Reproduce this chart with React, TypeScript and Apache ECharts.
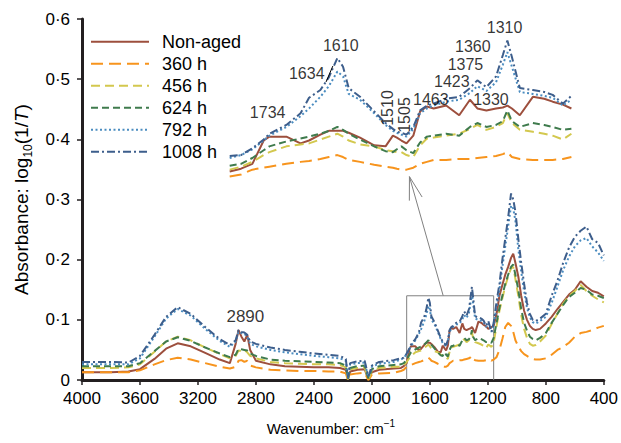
import React, { useEffect, useRef } from "react";
import * as echarts from "echarts";

// Wavenumber grid (cm^-1) shared by all spectra
const WAVENUMBERS = [
  4000, 3800, 3680, 3600, 3500, 3420, 3340, 3250, 3150, 3050, 2980, 2940, 2920, 2900, 2880, 2860, 2840, 2800,
  2700, 2600, 2500, 2400, 2300, 2220, 2180, 2165, 2150, 2100, 2050, 2025, 2015, 2000, 1950, 1850,
  1800, 1780, 1760, 1740, 1730, 1700, 1675, 1660, 1640, 1625, 1610, 1600, 1590, 1570, 1545, 1525, 1512, 1505,
  1497, 1488, 1476, 1464, 1452, 1440, 1418, 1395, 1376, 1363, 1347, 1330, 1318, 1310, 1302, 1288, 1265, 1245,
  1230, 1212, 1197, 1175, 1160,
  1140, 1120, 1100, 1080, 1060, 1040, 1025, 1010, 990, 970, 950, 930, 910, 890, 870, 840, 800, 760, 720, 680,
  640, 600, 560, 520, 480, 440, 400,
];

const NON_AGED = [
  0.013, 0.013, 0.014, 0.018, 0.035, 0.052, 0.061, 0.056, 0.045, 0.034, 0.028, 0.060, 0.083, 0.072, 0.064, 0.075, 0.050, 0.032,
  0.026, 0.023, 0.022, 0.021, 0.021, 0.020, 0.017, 0.001, 0.014, 0.017, 0.018, 0.001, 0.005, 0.013, 0.017, 0.019,
  0.020, 0.023, 0.028, 0.052, 0.056, 0.056, 0.049, 0.052, 0.058, 0.062, 0.062, 0.062, 0.060, 0.055, 0.047, 0.046, 0.057, 0.055,
  0.052, 0.049, 0.057, 0.082, 0.087, 0.085, 0.088, 0.078, 0.094, 0.085, 0.083, 0.085, 0.086, 0.088, 0.085, 0.078, 0.097, 0.095,
  0.092, 0.089, 0.085, 0.088, 0.090,
  0.110, 0.140, 0.158, 0.175, 0.188, 0.203, 0.210, 0.195, 0.172, 0.140, 0.115, 0.100, 0.090, 0.085, 0.083, 0.085, 0.094, 0.105, 0.118, 0.130,
  0.142, 0.150, 0.164, 0.155, 0.148, 0.145, 0.139,
];

const H360 = [
  0.013, 0.013, 0.013, 0.016, 0.026, 0.033, 0.037, 0.034, 0.028, 0.022, 0.019, 0.022, 0.032, 0.033, 0.030, 0.032, 0.024, 0.021,
  0.017, 0.016, 0.015, 0.015, 0.014, 0.014, 0.011, 0.000, 0.009, 0.011, 0.012, 0.000, 0.003, 0.009, 0.011, 0.012,
  0.015, 0.017, 0.022, 0.024, 0.025, 0.028, 0.030, 0.031, 0.033, 0.035, 0.037, 0.035, 0.032, 0.030, 0.027, 0.025, 0.024, 0.023,
  0.022, 0.022, 0.024, 0.028, 0.030, 0.032, 0.032, 0.033, 0.033, 0.034, 0.035, 0.036, 0.038, 0.040, 0.035, 0.033, 0.032, 0.032,
  0.032, 0.033, 0.035, 0.032, 0.034,
  0.038, 0.050, 0.068, 0.088, 0.095, 0.090, 0.080, 0.066, 0.056, 0.048, 0.043, 0.040, 0.037, 0.035, 0.034, 0.034, 0.036, 0.042, 0.050, 0.055,
  0.062, 0.072, 0.078, 0.080, 0.083, 0.087, 0.090,
];

const H456 = [
  0.020, 0.020, 0.021, 0.026, 0.047, 0.064, 0.072, 0.066, 0.054, 0.043, 0.036, 0.040, 0.049, 0.048, 0.050, 0.046, 0.040, 0.036,
  0.030, 0.028, 0.027, 0.026, 0.026, 0.025, 0.021, 0.001, 0.018, 0.020, 0.021, 0.002, 0.006, 0.016, 0.020, 0.022,
  0.022, 0.025, 0.030, 0.037, 0.040, 0.046, 0.048, 0.049, 0.053, 0.056, 0.059, 0.056, 0.052, 0.048, 0.046, 0.042, 0.041, 0.040,
  0.040, 0.037, 0.035, 0.047, 0.054, 0.055, 0.057, 0.059, 0.064, 0.068, 0.063, 0.066, 0.070, 0.080, 0.070, 0.063, 0.061, 0.059,
  0.057, 0.053, 0.059, 0.055, 0.062,
  0.090, 0.115, 0.136, 0.156, 0.172, 0.186, 0.188, 0.168, 0.140, 0.108, 0.085, 0.070, 0.060, 0.057, 0.058, 0.064, 0.074, 0.093, 0.110, 0.127,
  0.140, 0.148, 0.158, 0.148, 0.140, 0.134, 0.129,
];

const H624 = [
  0.023, 0.023, 0.023, 0.028, 0.048, 0.064, 0.071, 0.065, 0.054, 0.044, 0.038, 0.042, 0.052, 0.051, 0.050, 0.049, 0.044, 0.040,
  0.034, 0.032, 0.031, 0.030, 0.029, 0.028, 0.024, 0.002, 0.020, 0.023, 0.024, 0.003, 0.008, 0.018, 0.023, 0.025,
  0.026, 0.028, 0.034, 0.042, 0.046, 0.051, 0.054, 0.056, 0.059, 0.062, 0.066, 0.063, 0.059, 0.053, 0.046, 0.041, 0.040, 0.043,
  0.046, 0.042, 0.039, 0.050, 0.056, 0.057, 0.059, 0.057, 0.066, 0.070, 0.066, 0.068, 0.072, 0.083, 0.072, 0.066, 0.070, 0.068,
  0.066, 0.063, 0.064, 0.062, 0.070,
  0.095, 0.120, 0.140, 0.160, 0.175, 0.188, 0.192, 0.175, 0.150, 0.118, 0.095, 0.082, 0.072, 0.068, 0.066, 0.070, 0.078, 0.095, 0.110, 0.125,
  0.138, 0.145, 0.153, 0.150, 0.142, 0.140, 0.136,
];

const H792 = [
  0.026, 0.026, 0.026, 0.036, 0.072, 0.102, 0.118, 0.107, 0.085, 0.065, 0.055, 0.064, 0.080, 0.078, 0.077, 0.072, 0.060, 0.056,
  0.050, 0.046, 0.043, 0.040, 0.038, 0.036, 0.032, 0.003, 0.026, 0.028, 0.029, 0.005, 0.010, 0.022, 0.027, 0.030,
  0.034, 0.037, 0.043, 0.052, 0.057, 0.066, 0.077, 0.085, 0.097, 0.108, 0.123, 0.118, 0.100, 0.094, 0.080, 0.068, 0.062, 0.060,
  0.058, 0.056, 0.064, 0.080, 0.085, 0.088, 0.092, 0.094, 0.101, 0.108, 0.103, 0.112, 0.130, 0.143, 0.128, 0.102, 0.100, 0.098,
  0.096, 0.088, 0.094, 0.080, 0.090,
  0.122, 0.150, 0.188, 0.222, 0.255, 0.290, 0.285, 0.265, 0.218, 0.180, 0.148, 0.120, 0.104, 0.096, 0.094, 0.098, 0.105, 0.128, 0.155, 0.183,
  0.205, 0.222, 0.232, 0.236, 0.222, 0.212, 0.198,
];

const H1008 = [
  0.030, 0.030, 0.029, 0.040, 0.075, 0.105, 0.121, 0.110, 0.088, 0.068, 0.058, 0.066, 0.083, 0.080, 0.079, 0.075, 0.064, 0.060,
  0.054, 0.050, 0.047, 0.044, 0.042, 0.040, 0.035, 0.004, 0.028, 0.031, 0.032, 0.006, 0.012, 0.024, 0.030, 0.033,
  0.036, 0.037, 0.044, 0.053, 0.059, 0.068, 0.080, 0.096, 0.104, 0.117, 0.137, 0.128, 0.106, 0.097, 0.082, 0.070, 0.064, 0.061,
  0.060, 0.058, 0.066, 0.083, 0.088, 0.090, 0.095, 0.097, 0.106, 0.114, 0.107, 0.118, 0.140, 0.155, 0.138, 0.106, 0.104, 0.102,
  0.099, 0.090, 0.098, 0.080, 0.095,
  0.130, 0.160, 0.200, 0.235, 0.270, 0.310, 0.300, 0.280, 0.235, 0.195, 0.160, 0.128, 0.110, 0.100, 0.098, 0.102, 0.110, 0.140, 0.165, 0.195,
  0.220, 0.238, 0.248, 0.255, 0.234, 0.228, 0.207,
];

const SERIES_NAMES = ["Non-aged", "360 h", "456 h", "624 h", "792 h", "1008 h"];
const SERIES_VALUES = [NON_AGED, H360, H456, H624, H792, H1008];

// Axis ranges
const X_RANGE = [400, 4000];
const X_STEP = 400;
const Y_RANGE = [0, 0.6];
const Y_STEP = 0.1;

// Zoomed region (box in the main plot) and inset ranges
const ZOOM_BOX_X = [1760, 1160];
const ZOOM_BOX_TOP = 0.14;
const INSET_X = [1197, 1800];
const INSET_Y = [0, 0.165];

// Arrow from the box to the inset (main-plot data coordinates)
const ARROW_FROM = [1508, 0.14];
const ARROW_TO = [1741, 0.338];

// Peak annotations in the inset (inset data coordinates)
const INSET_LABEL_TEXT = ["1734", "1634", "1610", "1510", "1505", "1463", "1423", "1375", "1360", "1310", "1330"];
const INSET_LABEL_WN = [1733, 1664, 1604, 1521, 1492, 1445, 1408, 1384, 1371, 1315, 1339];
const INSET_LABEL_V = [0.0808, 0.1215, 0.150, 0.0855, 0.0783, 0.0947, 0.1123, 0.1308, 0.1493, 0.1679, 0.0947];
const INSET_LABEL_ROT = [0, 0, 0, 90, 90, 0, 0, 0, 0, 0, 0];
const LEADER_1634 = [[1630, 0.1123], [1618, 0.1287]];

// Peak annotation in main plot
const MAIN_LABEL = { text: "2890", wn: 2873, v: 0.106 };

const FONT = "'Liberation Sans', Arial, Helvetica, sans-serif";
const COLORS = ["#9d4f3d", "#f7941d", "#d3c84e", "#3f7b4d", "#4a8cc0", "#3d5e8c"];
const DASHES: any[] = ["solid", [12, 6], [9, 5], [7, 4], [2, 2.5], [8, 3, 2, 3]];

export default function App() {
  const ref = useRef<HTMLDivElement>(null);

  useEffect(() => {
    if (!ref.current) return;
    const chart = echarts.init(ref.current, undefined, { renderer: "svg" });

    const mainSeries = SERIES_NAMES.map((name, i) => ({
      type: "line",
      name,
      xAxisIndex: 0,
      yAxisIndex: 0,
      data: WAVENUMBERS.map((w, j) => [w, SERIES_VALUES[i][j]]),
      symbol: "none",
      showSymbol: false,
      silent: true,
      clip: true,
      lineStyle: { color: COLORS[i], width: 2, type: DASHES[i] },
      itemStyle: { color: COLORS[i] },
      z: 3 + i,
    }));

    const insetSeries = SERIES_NAMES.map((name, i) => ({
      type: "line",
      name,
      xAxisIndex: 1,
      yAxisIndex: 1,
      data: WAVENUMBERS.map((w, j) => [w, SERIES_VALUES[i][j]]).filter(
        (p) => p[0] >= INSET_X[0] && p[0] <= INSET_X[1]
      ),
      symbol: "none",
      showSymbol: false,
      silent: true,
      clip: true,
      lineStyle: { color: COLORS[i], width: 2, type: DASHES[i] },
      itemStyle: { color: COLORS[i] },
      z: 3 + i,
    }));

    const boxSeries = {
      type: "line",
      xAxisIndex: 0,
      yAxisIndex: 0,
      data: [
        [ZOOM_BOX_X[0], 0],
        [ZOOM_BOX_X[0], ZOOM_BOX_TOP],
        [ZOOM_BOX_X[1], ZOOM_BOX_TOP],
        [ZOOM_BOX_X[1], 0],
      ],
      symbol: "none",
      silent: true,
      lineStyle: { color: "#808080", width: 1 },
      z: 2,
    };

    const leaderSeries = {
      type: "line",
      xAxisIndex: 1,
      yAxisIndex: 1,
      data: LEADER_1634,
      symbol: "none",
      silent: true,
      clip: false,
      lineStyle: { color: "#000", width: 1 },
      z: 10,
    };

    const insetLabels = {
      type: "scatter",
      xAxisIndex: 1,
      yAxisIndex: 1,
      symbolSize: 1,
      silent: true,
      clip: false,
      itemStyle: { color: "rgba(0,0,0,0)" },
      label: { show: true, position: "inside", color: "#000", fontSize: 16, lineHeight: 16, fontFamily: FONT },
      data: INSET_LABEL_TEXT.map((t, i) => ({
        value: [INSET_LABEL_WN[i], INSET_LABEL_V[i]],
        label: { show: true, formatter: t, rotate: INSET_LABEL_ROT[i] },
      })),
      z: 20,
    };

    const mainLabel = {
      type: "scatter",
      xAxisIndex: 0,
      yAxisIndex: 0,
      symbolSize: 1,
      silent: true,
      clip: false,
      itemStyle: { color: "rgba(0,0,0,0)" },
      label: { show: true, position: "inside", color: "#000", fontSize: 17, fontFamily: FONT, formatter: MAIN_LABEL.text },
      data: [[MAIN_LABEL.wn, MAIN_LABEL.v]],
      z: 20,
    };

    const axisLine = { show: true, onZero: false, lineStyle: { color: "#231f20", width: 3 } };
    const axisTick = { show: true, inside: false, length: 5, lineStyle: { color: "#231f20", width: 1.5 } };

    const option: any = {
      animation: false,
      backgroundColor: "#ffffff",
      textStyle: { fontFamily: FONT },
      legend: {
        data: SERIES_NAMES,
        orient: "vertical",
        left: 90,
        top: 32.7,
        padding: 0,
        itemWidth: 58,
        itemHeight: 14,
        itemGap: 4,
        selectedMode: false,
        itemStyle: { opacity: 0 },
        textStyle: { fontSize: 18, color: "#000", fontFamily: FONT, lineHeight: 18, padding: [0, 0, 0, 8] },
      },
      grid: [
        { left: 79, right: 16, top: 19, bottom: 55.3 },
        { left: 229.7, right: 49.6, top: 30.8, bottom: 252 },
      ],
      xAxis: [
        {
          type: "value",
          gridIndex: 0,
          inverse: true,
          min: X_RANGE[0],
          max: X_RANGE[1],
          interval: X_STEP,
          axisLine,
          axisTick,
          splitLine: { show: false },
          axisLabel: {
            margin: 10,
            fontSize: 17,
            color: "#000",
            fontFamily: FONT,
            formatter: (v: number) => String(v),
          },
          name: "Wavenumber: cm{sup|\u22121}",
          nameLocation: "middle",
          nameGap: 38,
          nameTextStyle: {
            fontSize: 15,
            color: "#000",
            fontFamily: FONT,
            lineHeight: 20,
            padding: [0, 24, 0, 0],
            rich: { sup: { fontSize: 10, color: "#000", fontFamily: FONT, verticalAlign: "top", lineHeight: 14 } },
          },
        },
        { type: "value", gridIndex: 1, inverse: true, min: INSET_X[0], max: INSET_X[1], show: false },
      ],
      yAxis: [
        {
          type: "value",
          gridIndex: 0,
          min: Y_RANGE[0],
          max: Y_RANGE[1],
          interval: Y_STEP,
          axisLine,
          axisTick,
          splitLine: { show: false },
          axisLabel: {
            margin: 12,
            fontSize: 17,
            color: "#000",
            fontFamily: FONT,
            formatter: (v: number) => (v === 0 ? "0" : v.toFixed(1).replace(".", "\u00b7")),
          },
          name: "Absorbance: log{sub|10}(1/{it|T})",
          nameLocation: "middle",
          nameGap: 48,
          nameRotate: 90,
          nameTextStyle: {
            fontSize: 19,
            color: "#000",
            fontFamily: FONT,
            lineHeight: 26,
            rich: {
              sub: { fontSize: 12, color: "#000", fontFamily: FONT, verticalAlign: "bottom", lineHeight: 12 },
              it: { fontSize: 19, color: "#000", fontFamily: FONT, fontStyle: "italic", lineHeight: 26 },
            },
          },
        },
        { type: "value", gridIndex: 1, min: INSET_Y[0], max: INSET_Y[1], show: false },
      ],
      series: [boxSeries, ...mainSeries, ...insetSeries, leaderSeries, insetLabels, mainLabel],
    };

    chart.setOption(option);

    const base = chart.convertToPixel({ gridIndex: 0 }, ARROW_FROM) as number[];
    const tip = chart.convertToPixel({ gridIndex: 0 }, ARROW_TO) as number[];
    const ang = Math.atan2(base[1] - tip[1], base[0] - tip[0]);
    const headLen = 24;
    const spread = 0.28;
    const h1 = [tip[0] + headLen * Math.cos(ang + spread), tip[1] + headLen * Math.sin(ang + spread)];
    const h2 = [tip[0] + headLen * Math.cos(ang - spread), tip[1] + headLen * Math.sin(ang - spread)];

    chart.setOption({
      graphic: [
        {
          type: "line",
          shape: { x1: base[0], y1: base[1], x2: tip[0], y2: tip[1] },
          style: { stroke: "#808080", lineWidth: 1 },
          silent: true,
        },
        {
          type: "polyline",
          shape: { points: [h1, tip, h2] },
          style: { stroke: "#808080", lineWidth: 1, fill: null },
          silent: true,
        },
      ],
    });

    return () => chart.dispose();
  }, []);

  return (
    <div
      ref={ref}
      style={{ position: "absolute", left: 0, top: 0, width: 621, height: 443, background: "#fff" }}
    />
  );
}
